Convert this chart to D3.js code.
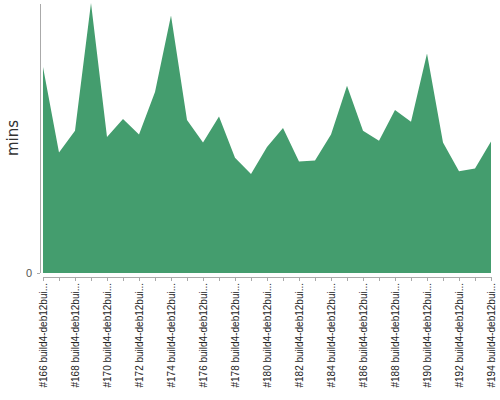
<!DOCTYPE html>
<html>
<head>
<meta charset="utf-8">
<script src="https://cdn.jsdelivr.net/npm/d3@7"></script>
<style>
  body { margin: 0; background: #fff; }
  svg { display: block; font-family: "DejaVu Sans", sans-serif; }
  .axis path, .axis line { stroke: #aaa; shape-rendering: crispEdges; }
</style>
</head>
<body>
<svg class="chart" width="500" height="400"></svg>
<script>
// Build numbers and run time in minutes

var builds = [166, 167, 168, 169, 170, 171, 172, 173, 174, 175,
	176, 177, 178, 179, 180, 181, 182, 183, 184, 185,
	186, 187, 188, 189, 190, 191, 192, 193, 194];

var mins = [22.9, 13.4, 15.8, 30.0, 15.1, 17.1, 15.4, 20.1, 28.6, 17.0,
	14.5, 17.4, 12.8, 11.0, 14.0, 16.1, 12.4, 12.5, 15.4, 20.8,
	15.8, 14.7, 18.1, 16.8, 24.4, 14.5, 11.3, 11.6, 14.6];

var labelSuffix = " build4-deb12bui...";
var yTicks = [0];

var data = builds.map(function(b, i) { return {build: "#" + b + labelSuffix, mins: mins[i]}; });

// Chart dimensions (plotTop, not "top": that one belongs to window):

var plotLeft = 43, plotRight = 491, plotTop = 3, plotBottom = 273,
	yAxisX = 40, xAxisY = 277;

var chart = d3.select(".chart");

var x = d3.scalePoint()
	.domain(data.map(function(d) { return d.build; }))
	.range([plotLeft, plotRight]);

var y = d3.scaleLinear()
	.domain([0, 30])
	.range([plotBottom, plotTop]);

// Area:

var area = d3.area()
	.x(function(d) { return x(d.build); })
	.y0(y(0))
	.y1(function(d) { return y(d.mins); });

chart.append("path")
	.datum(data)
	.attr("d", area)
	.style("fill", "#449d6e");

// Y axis with only the zero tick:

var yAxis = d3.axisLeft(y)
	.tickValues(yTicks)
	.tickSize(3)
	.tickSizeOuter(0)
	.tickPadding(5);

var gy = chart.append("g")
	.attr("class", "axis")
	.attr("transform", "translate(" + yAxisX + ",0)")
	.call(yAxis);
gy.select(".domain").attr("d", "M0," + (plotTop + 1) + "V" + plotBottom);
gy.selectAll("text")
	.style("font-size", "11px")
	.style("fill", "#555");

chart.append("text")
	.attr("transform", "translate(18," + ((plotTop + plotBottom) / 2) + ") rotate(-90)")
	.style("text-anchor", "middle")
	.style("font-size", "15px")
	.style("fill", "#333")
	.text("mins");

// X axis, every other label, rotated:

var xAxis = d3.axisBottom(x)
	.tickSize(4)
	.tickSizeOuter(0)
	.tickFormat(function(d, i) { return i % 2 == 0 ? d : ""; });

var gx = chart.append("g")
	.attr("class", "axis")
	.attr("transform", "translate(0," + xAxisY + ")")
	.call(xAxis);

gx.selectAll("text")
	.attr("transform", "rotate(-90)")
	.attr("x", -6)
	.attr("y", 0)
	.attr("dy", "0.35em")
	.style("text-anchor", "end")
	.style("font-size", "10px")
	.style("fill", "#222");
</script>
</body>
</html>
